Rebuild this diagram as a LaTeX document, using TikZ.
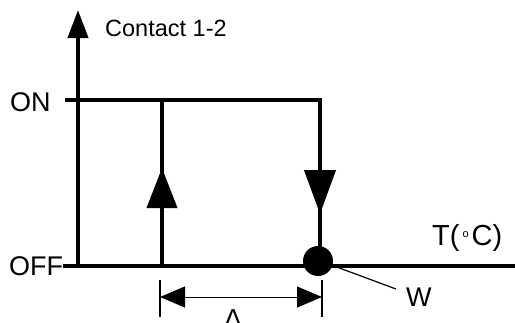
\documentclass[tikz,border=0pt]{standalone}
\usepackage{fontspec}
\setmainfont{Liberation Sans}
\usetikzlibrary{arrows.meta}
\begin{document}
\begin{tikzpicture}[x=1pt,y=-1pt,
  thickline/.style={line width=4pt},
  thinline/.style={line width=1.2pt},
  lbl/.style={inner sep=0pt,anchor=base west,font=\fontsize{27}{27}\selectfont},
]
\useasboundingbox (0,0) rectangle (515,322);
% coordinates
\coordinate (o) at (78,266);
\coordinate (ytop) at (78,10);
\coordinate (onl) at (65,100);
\coordinate (onr) at (320,100);
\coordinate (offl) at (63,266);
\coordinate (offr) at (515,266);
\coordinate (upb) at (162,266);
\coordinate (upt) at (162,100);
\coordinate (uptip) at (162,168);
\coordinate (dntip) at (320,214);
\coordinate (dnb) at (320,266);
\coordinate (dl) at (160,297);
\coordinate (dr) at (322,297);
\coordinate (dlt) at (160,280);
\coordinate (dlb) at (160,317);
\coordinate (drt) at (322,280);
\coordinate (drb) at (322,317);
\coordinate (wa) at (334,266);
\coordinate (wb) at (396,289);
% axes and lines
\draw[thickline,-{Triangle[length=28pt,width=20pt]}] (o) -- (ytop);
\draw[thickline] (onl) -- (onr) -- (dnb);
\draw[thickline] (offl) -- (offr);
\draw[thickline] (upb) -- (upt);
\draw[thickline,-{Triangle[length=40pt,width=30pt]}] (upb) -- (uptip);
\draw[thickline,-{Triangle[length=44pt,width=31pt]}] (onr) -- (dntip);
\node[circle,fill=black,minimum size=30pt,inner sep=0pt] (dot) at (318,261) {};
% W leader
\draw[thinline] (wa) -- (wb);
% dimension
\draw[thinline] (dlt) -- (dlb);
\draw[thinline] (drt) -- (drb);
\draw[line width=1pt,{Triangle[length=25pt,width=21pt]}-{Triangle[length=25pt,width=21pt]}] (dl) -- (dr);
% labels
\node[lbl,font=\fontsize{23.5}{23.5}\selectfont] (contact) at (105,36) {Contact 1-2};
\node[lbl] (on) at (10,111) {ON};
\node[lbl] (off) at (9,275) {OFF};
\node[lbl,font=\fontsize{29}{29}\selectfont] (t) at (432,245) {T(\hspace{3pt}\raisebox{8pt}{\fontsize{11}{11}\selectfont o}\hspace{3pt}C)};
\node[lbl] (w) at (406,306) {W};
\node[lbl,anchor=base,font=\fontsize{26}{26}\selectfont] (delta) at (233,327) {Δ};
\end{tikzpicture}
\end{document}
